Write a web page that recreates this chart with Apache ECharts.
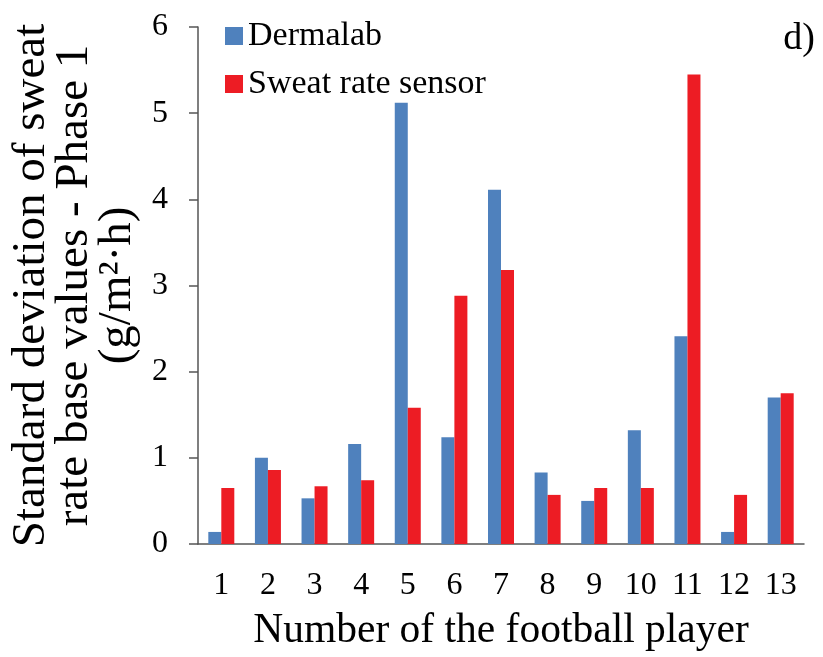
<!DOCTYPE html>
<html>
<head>
<meta charset="utf-8">
<script src="https://cdn.jsdelivr.net/npm/echarts@6/dist/echarts.min.js"></script>
<style>
  html, body { margin: 0; padding: 0; background: #fff; }
  #chart { width: 823px; height: 657px; }
</style>
</head>
<body>
<div id="chart"></div>
<script>
// players 1..13
const players = ['1', '2', '3', '4', '5', '6', '7', '8', '9', '10', '11', '12', '13'];
const dermalab = [0.14, 1.0, 0.53, 1.16, 5.12, 1.24, 4.11, 0.83, 0.5, 1.32, 2.41, 0.14, 1.7];
const sweatSensor = [0.65, 0.86, 0.67, 0.74, 1.58, 2.88, 3.18, 0.57, 0.65, 0.65, 5.45, 0.57, 1.75];
const yTicks = { min: 0, max: 6, interval: 1 };

const serif = '"Liberation Serif", "Times New Roman", serif';
const axisColor = '#555';

const options = {
    animation: false,
    backgroundColor: '#fff',
    grid: {
        left: 198,
        right: 19,
        top: 27,
        bottom: 112
    },
    legend: {
        orient: 'vertical',
        left: 220,
        top: 13,
        itemWidth: 18,
        itemHeight: 18,
        itemGap: 12,
        icon: 'rect',
        textStyle: {
            fontFamily: serif,
            fontSize: 34,
            lineHeight: 36,
            color: '#000'
        },
        data: ['Dermalab', 'Sweat rate sensor']
    },
    xAxis: {
        type: 'category',
        data: players,
        name: 'Number of the football player',
        nameLocation: 'middle',
        nameGap: 66,
        nameTextStyle: { fontFamily: serif, fontSize: 41.5, color: '#000' },
        axisLine: { lineStyle: { color: axisColor, width: 1.5 } },
        axisTick: { length: 10, lineStyle: { color: axisColor, width: 1.5 } },
        axisLabel: { fontFamily: serif, fontSize: 32, color: '#000', margin: 26 }
    },
    yAxis: {
        type: 'value',
        min: yTicks.min,
        max: yTicks.max,
        interval: yTicks.interval,
        name: 'Standard deviation of sweat\nrate base values - Phase 1\n(g/m²·h)',
        nameLocation: 'middle',
        nameRotate: 90,
        nameGap: 54,
        nameTextStyle: { fontFamily: serif, fontSize: 47, lineHeight: 43, color: '#000' },
        splitLine: { show: false },
        axisLine: { show: true, lineStyle: { color: axisColor, width: 1.5 } },
        axisTick: { show: true, length: 9, lineStyle: { color: axisColor, width: 1.5 } },
        axisLabel: { fontFamily: serif, fontSize: 32, color: '#000', margin: 30 }
    },
    graphic: [
        {
            type: 'text',
            right: 8,
            top: 20,
            style: {
                text: 'd)',
                font: '38px ' + serif,
                fill: '#000'
            }
        }
    ],
    series: [
        {
            name: 'Dermalab',
            type: 'bar',
            data: dermalab,
            barWidth: 13,
            barGap: '0%',
            itemStyle: { color: '#4F81BD' }
        },
        {
            name: 'Sweat rate sensor',
            type: 'bar',
            data: sweatSensor,
            barWidth: 13,
            itemStyle: { color: '#ED1C24' }
        }
    ]
};

const E = echarts.init(document.getElementById('chart'));
window.onresize = function () {
    E.resize();
};
E.setOption(options);
</script>
</body>
</html>
